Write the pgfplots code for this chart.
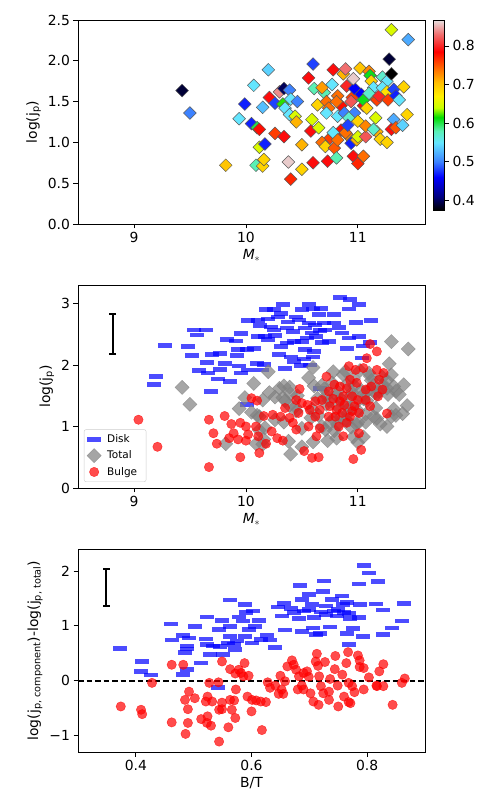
\documentclass[border=0pt]{standalone}
\usepackage{pgfplots}
\pgfplotsset{compat=1.18}
\usepackage{pgfplotstable}
\usepackage{fontspec}
\setmainfont{DejaVu Sans}
\pgfdeclareplotmark{hbar}{\pgfpathrectangle{\pgfqpoint{-7pt}{-2.3pt}}{\pgfqpoint{14pt}{4.6pt}}\pgfusepathqfill}
\pgfplotsset{colormap={bt}{rgb255(0)=(0,0,0) rgb255(35)=(0,0,128) rgb255(85)=(0,0,255) rgb255(125)=(60,130,255) rgb255(175)=(100,230,255) rgb255(205)=(90,240,180) rgb255(240)=(0,220,0) rgb255(265)=(200,255,0) rgb255(295)=(255,240,0) rgb255(330)=(255,190,0) rgb255(365)=(255,110,0) rgb255(410)=(255,0,0) rgb255(455)=(240,110,110) rgb255(492)=(230,225,225)}}
\pgfplotsset{base/.style={scale only axis, width=347pt, anchor=south west,
  tick align=outside, xtick pos=left, ytick pos=left, major tick length=4.5pt,
  every tick/.style={black, line width=0.7pt}, axis line style={line width=0.7pt},
  ticklabel style={font=\fontsize{13.9}{16}\selectfont},
  label style={font=\fontsize{13.9}{16}\selectfont},
  /pgf/number format/assume math mode=true, clip=true}}

\pgfplotstableread{
x y c
9.43 1.635 0.39
9.50 1.36 0.50
9.82 0.72 0.70
9.94 1.29 0.55
9.99 1.47 0.47
10.07 1.70 0.55
10.05 1.23 0.47
10.10 1.18 0.60
10.12 1.16 0.78
10.12 0.94 0.65
10.17 0.98 0.47
10.09 0.72 0.58
10.15 0.71 0.69
10.16 0.79 0.69
10.15 1.43 0.53
10.20 1.89 0.54
10.21 1.55 0.79
10.26 1.48 0.48
10.26 1.11 0.76
10.34 1.07 0.79
10.30 1.62 0.84
10.34 1.66 0.40
10.39 1.64 0.50
10.33 1.47 0.62
10.35 1.42 0.55
10.40 1.53 0.55
10.46 1.50 0.50
10.39 1.34 0.55
10.44 1.32 0.65
10.45 1.25 0.71
10.38 0.76 0.86
10.40 0.55 0.77
10.50 0.67 0.69
10.50 0.97 0.71
10.85 1.45 0.78
10.95 1.55 0.76
11.05 1.45 0.79
10.85 1.15 0.78
11.15 1.55 0.74
10.90 1.10 0.73
10.75 1.05 0.76
10.60 1.96 0.48
10.56 1.79 0.79
10.61 1.66 0.58
10.59 1.28 0.65
10.58 1.14 0.79
10.65 1.18 0.65
10.60 0.75 0.79
10.64 1.46 0.69
10.70 1.61 0.58
10.68 1.67 0.72
10.72 1.50 0.74
10.74 1.42 0.74
10.72 1.36 0.55
10.77 1.71 0.55
10.68 1.00 0.74
10.71 0.95 0.69
10.73 0.77 0.79
10.78 1.12 0.55
10.78 1.89 0.79
10.87 1.84 0.71
10.89 1.90 0.83
10.82 1.57 0.74
10.81 1.50 0.74
10.82 1.32 0.55
10.88 1.36 0.50
10.79 0.93 0.75
10.81 0.81 0.58
10.82 1.03 0.74
10.89 1.12 0.74
10.90 1.69 0.80
10.94 1.50 0.82
10.97 1.66 0.46
10.97 1.36 0.50
10.92 1.30 0.57
10.91 1.21 0.48
10.94 0.99 0.47
10.99 1.03 0.71
10.96 0.83 0.79
11.00 0.74 0.77
11.05 0.83 0.74
11.02 1.91 0.70
10.96 1.78 0.86
11.03 1.59 0.46
11.05 1.52 0.61
11.00 1.26 0.69
11.00 1.07 0.65
11.07 1.07 0.82
11.08 1.42 0.69
11.07 1.20 0.73
11.10 1.87 0.73
11.11 1.82 0.61
11.12 1.75 0.69
11.14 1.67 0.55
11.10 1.60 0.57
11.17 1.52 0.76
11.19 1.57 0.80
11.16 1.30 0.65
11.17 1.13 0.71
11.20 1.04 0.69
11.26 1.00 0.69
11.14 1.16 0.57
11.22 1.80 0.57
11.26 1.75 0.55
11.22 1.67 0.55
11.26 1.62 0.68
11.27 1.52 0.76
11.30 2.38 0.65
11.45 2.26 0.52
11.28 2.02 0.39
11.30 1.84 0.37
11.32 1.65 0.48
11.34 1.57 0.47
11.37 1.52 0.55
11.41 1.68 0.69
11.32 1.28 0.52
11.30 1.16 0.79
11.34 1.18 0.75
11.40 1.21 0.54
11.44 1.34 0.69
}\total

\pgfplotstableread{
x y
9.28 2.32
9.20 1.81
9.18 1.68
9.54 2.57
9.64 2.57
9.56 2.49
9.48 2.30
9.52 2.15
9.58 1.91
9.66 1.87
9.65 2.04
9.70 2.17
9.77 2.19
9.81 2.02
9.77 1.93
9.75 1.77
9.86 1.73
9.69 1.57
9.83 2.41
9.91 2.39
9.96 2.51
9.93 2.25
9.92 2.15
9.94 1.98
9.96 1.87
10.02 1.92
10.01 2.25
10.07 2.27
10.02 2.72
10.11 2.72
10.11 2.46
10.13 2.64
10.18 2.90
10.25 2.90
10.33 2.98
10.31 2.84
10.20 2.75
10.29 2.78
10.17 2.46
10.25 2.57
10.20 2.41
10.16 2.01
10.10 2.02
10.14 1.92
10.26 2.48
10.31 2.30
10.37 2.36
10.37 2.60
10.42 2.54
10.30 2.17
10.35 1.94
10.40 2.13
10.43 2.06
10.49 1.99
10.52 2.10
10.53 2.25
10.50 2.38
10.43 2.38
10.47 2.73
10.50 2.90
10.56 2.98
10.60 2.91
10.67 2.92
10.65 2.82
10.56 2.68
10.53 2.60
10.62 2.65
10.70 2.68
10.71 2.57
10.59 2.52
10.63 2.46
10.74 2.38
10.68 2.37
10.61 2.22
10.60 2.13
10.57 2.00
10.79 2.82
10.84 3.10
10.93 3.06
11.01 2.98
10.92 2.91
10.79 2.68
10.83 2.61
10.86 2.52
10.92 2.44
10.98 2.69
11.01 2.46
11.12 2.72
11.05 2.31
11.11 2.37
11.04 2.11
10.66 1.62
10.01 1.36
10.90 2.27
10.45 2.78
10.38 2.70
10.22 2.62
10.66 2.56
10.55 2.44
}\disk

\pgfplotstableread{
x y
9.04 1.11
9.21 0.67
9.67 0.34
9.67 1.11
9.71 0.89
9.74 0.72
9.81 1.17
9.87 1.04
9.85 0.81
9.89 0.89
9.93 0.79
9.95 0.50
9.95 1.06
10.00 1.00
10.00 0.77
10.02 0.87
10.05 1.46
10.10 1.42
10.09 1.00
10.11 0.84
10.12 0.57
10.16 1.17
10.18 0.72
10.23 0.92
10.24 1.19
10.31 1.16
10.28 0.81
10.33 0.77
10.35 1.30
10.39 1.14
10.42 1.06
10.45 0.95
10.47 1.22
10.45 1.43
10.48 1.61
10.50 1.38
10.52 0.60
10.59 0.49
10.65 0.50
10.56 1.00
10.57 1.27
10.62 1.16
10.66 0.97
10.63 0.84
10.66 1.27
10.68 1.43
10.72 1.81
10.79 1.68
10.74 1.57
10.75 1.33
10.80 1.16
10.83 1.00
10.87 0.84
10.84 1.41
10.86 1.22
10.90 1.06
10.92 1.98
10.93 1.76
10.90 1.62
10.95 1.49
10.97 1.33
10.98 1.92
10.99 1.71
11.01 1.22
11.01 0.89
11.03 0.62
10.96 0.47
11.05 1.95
11.07 1.60
11.08 2.11
11.07 1.43
11.11 1.33
11.12 1.65
11.17 1.92
11.17 2.22
11.11 2.34
11.18 1.49
11.22 1.60
11.23 1.87
11.26 1.21
11.19 1.76
10.81 1.27
10.87 1.49
10.93 1.16
10.84 1.65
10.74 1.16
10.62 1.41
10.55 1.35
11.00 1.43
10.88 1.35
10.78 1.45
10.95 1.25
}\bulge

\pgfplotstableread{
x y
0.373 0.59
0.410 0.35
0.409 0.17
0.427 0.10
0.461 1.03
0.462 0.74
0.481 0.82
0.492 0.78
0.488 0.63
0.488 0.58
0.485 0.51
0.482 0.11
0.488 0.20
0.502 0.99
0.513 0.32
0.523 1.16
0.521 0.76
0.523 0.66
0.528 0.48
0.534 0.63
0.544 0.93
0.549 1.10
0.546 0.62
0.550 0.48
0.562 1.47
0.563 0.99
0.563 0.81
0.560 0.69
0.569 0.66
0.571 0.57
0.579 1.16
0.589 1.39
0.591 1.24
0.586 1.09
0.588 0.81
0.595 0.93
0.602 1.27
0.613 1.10
0.606 0.99
0.601 0.69
0.616 0.75
0.626 0.82
0.632 0.74
0.640 0.61
0.646 1.34
0.656 1.41
0.652 1.18
0.658 0.92
0.668 1.32
0.673 1.24
0.682 1.13
0.684 1.73
0.687 1.48
0.690 1.27
0.687 0.90
0.699 1.57
0.705 1.39
0.708 1.15
0.707 0.96
0.711 0.84
0.718 0.86
0.724 1.62
0.725 1.82
0.728 1.36
0.728 1.21
0.736 0.98
0.739 1.48
0.742 1.27
0.747 1.18
0.757 1.54
0.759 1.39
0.760 1.24
0.765 1.42
0.768 1.22
0.771 1.13
0.769 0.66
0.765 0.86
0.775 0.95
0.786 1.76
0.794 2.10
0.803 1.96
0.788 1.39
0.786 1.15
0.793 0.81
0.819 1.81
0.816 1.40
0.828 1.29
0.828 0.84
0.843 0.96
0.860 1.09
0.864 1.41
0.542 -0.12
0.700 1.30
0.750 1.30
0.720 1.25
0.575 0.72
}\diskbt

\pgfplotstableread{
x y
0.374 -0.47
0.409 -0.53
0.411 -0.61
0.428 -0.04
0.462 0.29
0.462 -0.76
0.482 0.29
0.485 -0.35
0.490 -0.52
0.490 -0.77
0.486 -0.97
0.492 -0.20
0.502 -0.32
0.513 -0.70
0.523 -0.77
0.530 -0.82
0.524 -0.65
0.521 -0.38
0.524 -0.29
0.532 -0.38
0.527 -0.04
0.543 -0.03
0.544 -0.53
0.549 -0.52
0.549 -0.40
0.544 -1.11
0.549 0.35
0.560 -0.85
0.563 -0.35
0.566 -0.53
0.570 -0.36
0.572 -0.68
0.573 -0.16
0.563 0.21
0.572 0.13
0.578 0.20
0.582 0.14
0.586 0.08
0.588 0.32
0.595 0.09
0.593 -0.29
0.601 -0.35
0.608 -0.36
0.616 -0.38
0.625 -0.39
0.600 -0.56
0.618 -0.90
0.628 -0.03
0.632 -0.13
0.641 -0.09
0.647 -0.24
0.650 0.09
0.652 -0.16
0.655 -0.24
0.658 -0.01
0.662 0.26
0.670 0.37
0.673 0.29
0.677 0.20
0.680 -0.16
0.682 0.08
0.687 -0.09
0.690 -0.16
0.690 0.14
0.696 0.17
0.699 0.07
0.702 -0.23
0.707 -0.38
0.711 0.35
0.713 0.49
0.715 0.27
0.716 -0.44
0.717 0.08
0.720 -0.10
0.724 -0.23
0.727 0.34
0.734 -0.35
0.734 -0.20
0.736 0.03
0.745 0.45
0.744 0.21
0.750 -0.47
0.749 -0.09
0.757 0.11
0.760 -0.29
0.764 0.32
0.767 0.52
0.768 -0.39
0.771 -0.41
0.768 -0.04
0.774 -0.10
0.778 -0.21
0.784 0.46
0.787 0.37
0.787 0.25
0.794 0.23
0.794 -0.16
0.803 0.06
0.816 -0.09
0.817 -0.10
0.821 0.17
0.828 0.30
0.828 -0.10
0.844 -0.44
0.860 -0.04
0.865 0.04
}\bulgebt

\begin{document}
\begin{tikzpicture}
\useasboundingbox (0,0) rectangle (487pt,808pt);
% top panel
\begin{axis}[base, at={(78pt,584pt)}, height=204pt,
  xmin=8.5, xmax=11.6, ymin=0, ymax=2.5,
  xtick={9,10,11}, ytick={0,0.5,1,1.5,2,2.5}, yticklabels={0.0,0.5,1.0,1.5,2.0,2.5},
  xlabel={\textit{M}\textsubscript{$*$}}, ylabel={log(j\textsubscript{p})},
  colormap name=bt, point meta min=0.375, point meta max=0.867,
  colorbar,
  colorbar style={width=11pt, height=190pt, at={([xshift=16pt,yshift=-0.7pt]parent axis.north east)}, anchor=north west,
    ytick={0.4,0.5,0.6,0.7,0.8}, yticklabels={0.4,0.5,0.6,0.7,0.8},
    tick align=outside, ytick pos=right, yticklabel pos=right, major tick length=4.5pt,
    every tick/.style={black, line width=0.7pt}, axis line style={line width=0.7pt},
    ticklabel style={font=\fontsize{13.9}{16}\selectfont},
    /pgf/number format/assume math mode=true}]
\addplot[scatter, only marks, mark=square*, mark size=4.5pt, scatter src=explicit,
  scatter/use mapped color={draw=black!65, fill=mapped color},
  mark options={rotate=45, line width=0.5pt}] table[x=x, y=y, meta=c] {\total};
\end{axis}
% middle panel
\begin{axis}[base, at={(78pt,320pt)}, height=203pt,
  xmin=8.5, xmax=11.6, ymin=0, ymax=3.3,
  xtick={9,10,11}, ytick={0,1,2,3},
  xlabel={\textit{M}\textsubscript{$*$}}, ylabel={log(j\textsubscript{p})},
  legend style={at={(0.017,0.03)}, anchor=south west, font=\fontsize{10.5}{12}\selectfont,
    draw=black!20, rounded corners=2pt, row sep=2.5pt, inner sep=3pt,
    nodes={inner xsep=6pt}},
  legend cell align=left]
\addplot[only marks, mark=hbar, color=blue, mark options={opacity=0.7}] table[x=x, y=y] {\disk};
\addlegendentry{Disk}
\addplot[only marks, mark=square*, mark size=5pt, color=gray, mark options={rotate=45, opacity=0.7}] table[x=x, y=y] {\total};
\addlegendentry{Total}
\addplot[only marks, mark=*, mark size=4.7pt, color=red, mark options={opacity=0.7}] table[x=x, y=y] {\bulge};
\addlegendentry{Bulge}
\addplot[forget plot, black, line width=2pt, mark=-, mark size=3.5pt, mark options={solid, line width=2pt}]
  coordinates {(8.81,2.175) (8.81,2.825)};
\end{axis}
% bottom panel
\begin{axis}[base, at={(78pt,56pt)}, height=203pt,
  xmin=0.3, xmax=0.9, ymin=-1.3, ymax=2.4,
  xtick={0.4,0.6,0.8}, xticklabels={0.4,0.6,0.8},
  ytick={-1,0,1,2}, yticklabels={−1,0,1,2},
  xlabel={B/T}, ylabel={log(j\textsubscript{p, component})-log(j\textsubscript{p, total})}]
\addplot[only marks, mark=hbar, color=blue, mark options={opacity=0.7}] table[x=x, y=y] {\diskbt};
\addplot[only marks, mark=*, mark size=4.7pt, color=red, mark options={opacity=0.7}] table[x=x, y=y] {\bulgebt};
\addplot[black, line width=2pt, dash pattern=on 5.5pt off 3pt] coordinates {(0.3,0) (0.9,0)};
\addplot[black, line width=2pt, mark=-, mark size=3.5pt, mark options={solid, line width=2pt}]
  coordinates {(0.349,1.37) (0.349,2.04)};
\end{axis}
\end{tikzpicture}
\end{document}
